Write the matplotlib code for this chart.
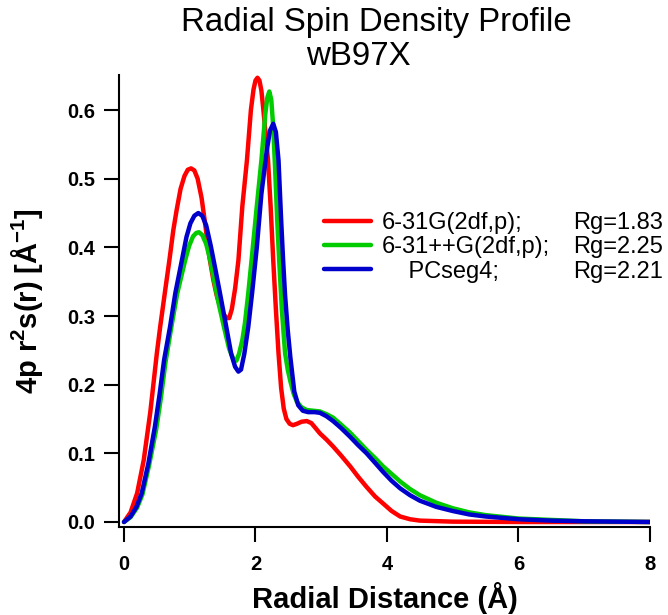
import numpy as np
import matplotlib
matplotlib.use('Agg')
import matplotlib.pyplot as plt

plt.rcParams['font.family'] = ['Liberation Sans', 'DejaVu Sans']
plt.rcParams['mathtext.fontset'] = 'custom'
plt.rcParams['mathtext.rm'] = 'Liberation Sans'
plt.rcParams['mathtext.bf'] = 'Liberation Sans:bold'

# 6-31G(2df,p)
x_red = [0.0, 0.1, 0.2, 0.3, 0.4, 0.5, 0.55, 0.62, 0.69, 0.75, 0.80, 0.86, 0.92,
         0.97, 1.02, 1.07, 1.12, 1.18, 1.24, 1.30, 1.36, 1.41, 1.46, 1.51, 1.56,
         1.60, 1.64, 1.69, 1.74, 1.80, 1.87, 1.93, 1.97, 2.00, 2.03, 2.06, 2.09,
         2.12, 2.19, 2.23, 2.27, 2.31, 2.35, 2.39, 2.43, 2.47, 2.52, 2.57, 2.63,
         2.70, 2.78, 2.85, 2.92, 2.98, 3.08, 3.18, 3.30, 3.44, 3.56, 3.69, 3.82,
         3.94, 4.07, 4.2, 4.35, 4.5, 5.0, 6.0, 8.0]
y_red = [0.0, 0.014, 0.042, 0.09, 0.16, 0.246, 0.284, 0.333, 0.381, 0.425, 0.454,
         0.485, 0.504, 0.513, 0.515, 0.512, 0.500, 0.472, 0.43, 0.385, 0.352,
         0.330, 0.314, 0.303, 0.297, 0.297, 0.31, 0.34, 0.381, 0.46, 0.527, 0.60,
         0.630, 0.643, 0.647, 0.643, 0.628, 0.60, 0.527, 0.46, 0.381, 0.31, 0.246,
         0.195, 0.165, 0.150, 0.143, 0.141, 0.143, 0.146, 0.147, 0.144, 0.136,
         0.129, 0.12, 0.110, 0.097, 0.081, 0.066, 0.051, 0.037, 0.027, 0.016,
         0.008, 0.004, 0.002, 0.0005, 0.0, 0.0]

# 6-31++G(2df,p)
x_green = [0.0, 0.1, 0.2, 0.28, 0.38, 0.49, 0.56, 0.63, 0.72, 0.81, 0.93, 0.99,
           1.05, 1.10, 1.14, 1.19, 1.25, 1.31, 1.37, 1.44, 1.53, 1.60, 1.66, 1.71,
           1.75, 1.80, 1.84, 1.89, 1.94, 2.02, 2.09, 2.15, 2.18, 2.21, 2.24, 2.27,
           2.30, 2.33, 2.36, 2.40, 2.45, 2.49, 2.53, 2.58, 2.63, 2.70, 2.78, 2.88,
           2.98, 3.08, 3.18, 3.30, 3.44, 3.56, 3.69, 3.82, 3.94, 4.07, 4.2, 4.35,
           4.5, 4.75, 5.0, 5.25, 5.5, 6.0, 6.5, 7.0, 8.0]
y_green = [0.0, 0.007, 0.021, 0.04, 0.082, 0.135, 0.18, 0.232, 0.284, 0.333,
           0.381, 0.402, 0.416, 0.421, 0.422, 0.418, 0.405, 0.382, 0.352, 0.318,
           0.280, 0.252, 0.238, 0.235, 0.245, 0.265, 0.290, 0.333, 0.381, 0.46,
           0.527, 0.595, 0.618, 0.627, 0.615, 0.575, 0.51, 0.44, 0.381, 0.31,
           0.246, 0.222, 0.205, 0.187, 0.175, 0.167, 0.163, 0.162, 0.161, 0.157,
           0.152, 0.142, 0.130, 0.118, 0.105, 0.093, 0.081, 0.070, 0.059, 0.048,
           0.039, 0.028, 0.020, 0.014, 0.010, 0.005, 0.003, 0.001, 0.0]

# PCseg4
x_blue = [0.0, 0.1, 0.19, 0.27, 0.37, 0.47, 0.54, 0.61, 0.70, 0.78, 0.88, 0.95,
          1.01, 1.07, 1.13, 1.19, 1.25, 1.32, 1.39, 1.46, 1.55, 1.63, 1.69, 1.74,
          1.78, 1.83, 1.89, 1.95, 2.02, 2.09, 2.17, 2.22, 2.27, 2.31, 2.35, 2.39,
          2.42, 2.45, 2.49, 2.53, 2.59, 2.65, 2.72, 2.80, 2.90, 2.98, 3.08, 3.18,
          3.30, 3.44, 3.56, 3.69, 3.82, 3.94, 4.07, 4.2, 4.35, 4.5, 4.75, 5.0,
          5.25, 5.5, 6.0, 6.5, 7.0, 8.0]
y_blue = [0.0, 0.008, 0.022, 0.042, 0.085, 0.139, 0.185, 0.236, 0.284, 0.333,
          0.381, 0.415, 0.435, 0.446, 0.450, 0.446, 0.432, 0.402, 0.368, 0.333,
          0.287, 0.245, 0.226, 0.219, 0.222, 0.245, 0.284, 0.335, 0.40, 0.478,
          0.540, 0.570, 0.580, 0.568, 0.527, 0.44, 0.381, 0.33, 0.28, 0.240,
          0.190, 0.170, 0.162, 0.160, 0.160, 0.159, 0.154, 0.147, 0.137, 0.124,
          0.112, 0.100, 0.086, 0.073, 0.060, 0.049, 0.039, 0.031, 0.022, 0.016,
          0.011, 0.008, 0.004, 0.002, 0.001, 0.0]

labels = ['6-31G(2df,p);', '6-31++G(2df,p);', '    PCseg4;']
rg_labels = ['Rg=1.83', 'Rg=2.25', 'Rg=2.21']
colors = ['#ff0000', '#00cc00', '#0000cc']

W, H = 668, 615
fig = plt.figure(figsize=(W / 100, H / 100), dpi=100)
ax = fig.add_axes([119 / W, 1 - 527 / H, (650 - 119) / W, (527 - 75) / H])

lines = []
for xs, ys, c in zip([x_red, x_green, x_blue], [y_red, y_green, y_blue], colors):
    ln, = ax.plot(xs, ys, color=c, lw=3.2, solid_joinstyle='round', solid_capstyle='round')
    lines.append(ln)

ax.set_xlim(-0.076, 8.0)
ax.set_ylim(-0.0073, 0.651)
ax.set_xticks([0, 2, 4, 6, 8])
ax.set_yticks(np.arange(0, 0.61, 0.1))
ax.set_yticklabels(['0.0', '0.1', '0.2', '0.3', '0.4', '0.5', '0.6'])
for s in ['top', 'right']:
    ax.spines[s].set_visible(False)
for s in ['left', 'bottom']:
    ax.spines[s].set_linewidth(1.5)
ax.tick_params(direction='out', length=11, width=1.5, labelsize=14.5)
ax.tick_params(axis='x', pad=9)
ax.tick_params(axis='y', pad=6)
for t in ax.get_xticklabels() + ax.get_yticklabels():
    t.set_fontweight('bold')

ax.set_xlabel('Radial Distance (Å)', fontsize=21, fontweight='bold')
ax.xaxis.set_label_coords(0.5, -0.122)
ax.set_ylabel(r'4p r$^{\mathbf{2}}$s(r) [Å$^{\mathbf{-1}}$]', fontsize=21, fontweight='bold')
ax.yaxis.set_label_coords(-0.139, 0.5)

fig.text(376.5 / W, 1 - 31 / H, 'Radial Spin Density Profile', ha='center', va='baseline', fontsize=23.8)
fig.text(358 / W, 1 - 65 / H, 'wB97X', ha='center', va='baseline', fontsize=23.8)

leg = ax.legend(lines, labels, loc='upper left', bbox_to_anchor=(0.386, 0.697),
                frameon=False, fontsize=17, handlelength=2.0, handletextpad=0.45,
                labelspacing=0.1, borderpad=0, borderaxespad=0)
fig.canvas.draw()
for t, rg in zip(leg.get_texts(), rg_labels):
    px, py = t.get_transform().transform(t.get_position())
    fig.text(663 / W, py / H, rg, ha='right', va='baseline', fontsize=17)

fig.savefig('out.png', dpi=100)
